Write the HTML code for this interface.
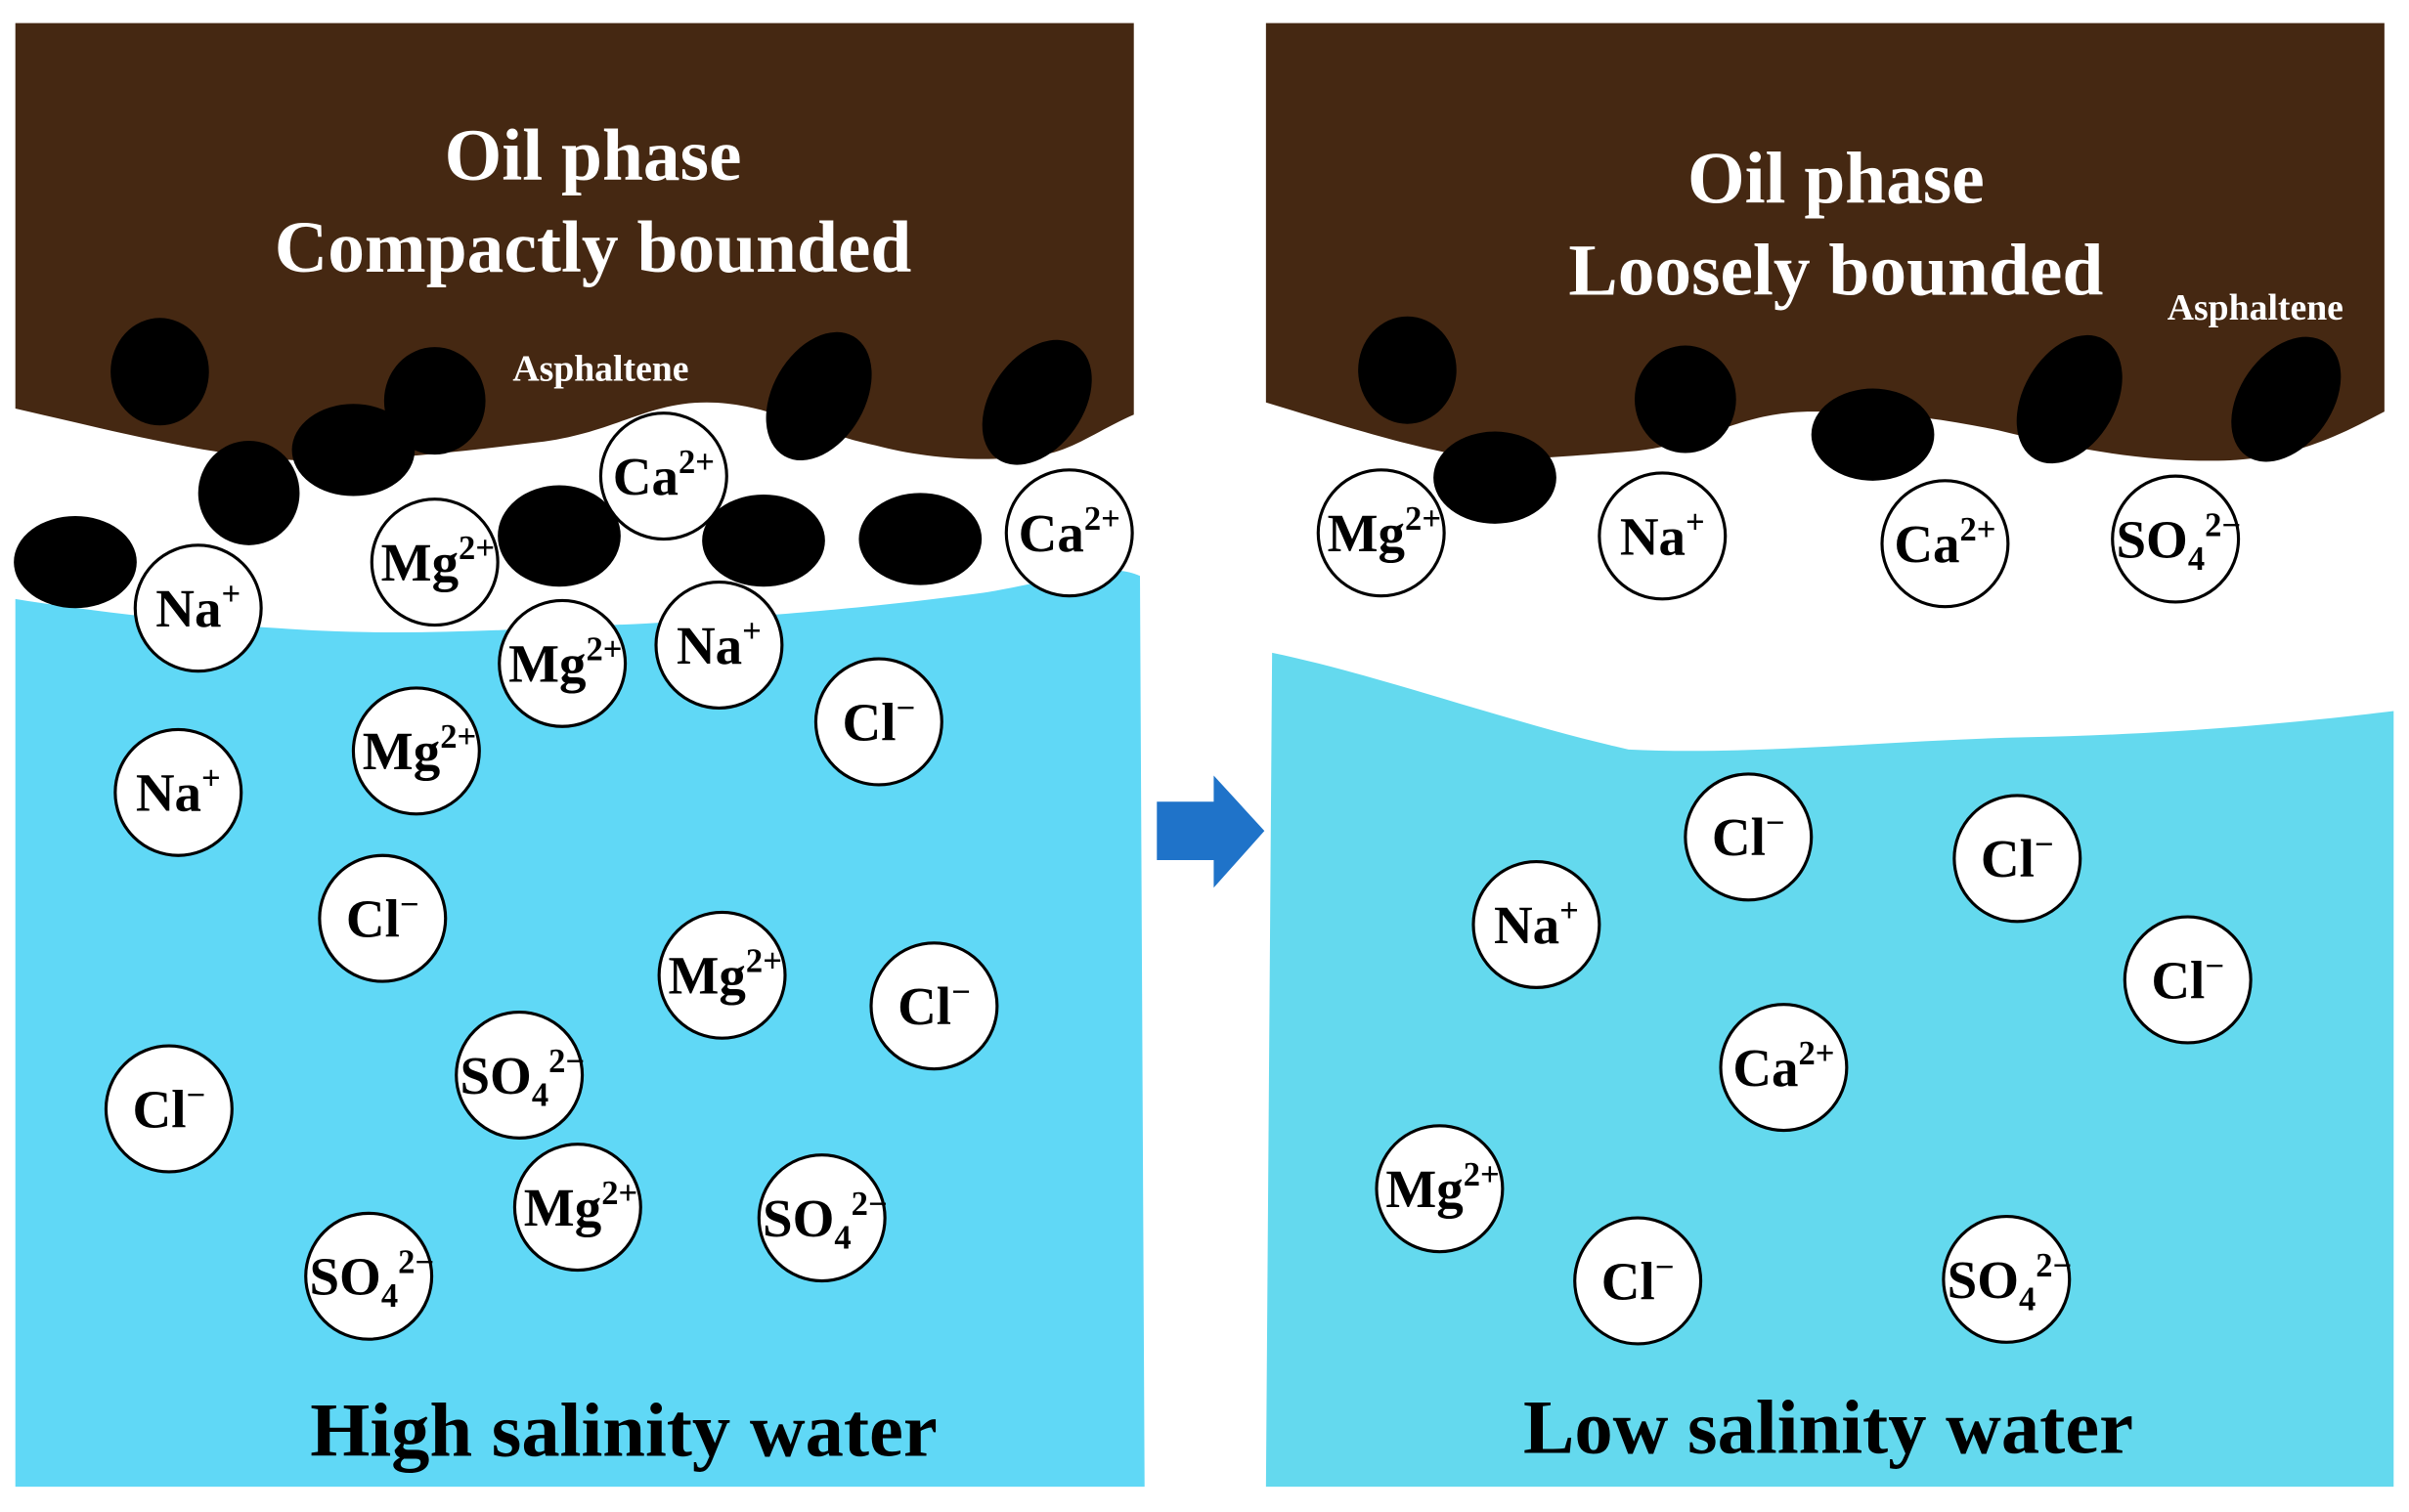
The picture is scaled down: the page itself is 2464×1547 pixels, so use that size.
<!DOCTYPE html>
<html><head><style>html,body{margin:0;padding:0;background:#fff}svg{display:block}</style></head><body>
<svg width="2464" height="1547" viewBox="0 0 1568 984.5" preserveAspectRatio="none" xmlns="http://www.w3.org/2000/svg" font-family="Liberation Serif, serif" font-weight="bold">
<rect width="1568" height="985" fill="#fff"/>
<path d="M10,390 C60,398 120,405 180,409 C260,415 330,410 420,406 C520,400 580,394 640,386 C690,378 720,365 742,375 L745,968 L10,968 Z" fill="#60d8f6"/>
<path d="M10,15 L738,15 L738,270 C715,280 700,292 680,296 C640,302 600,298 570,290 C530,282 500,262 460,262 C420,262 400,282 350,288 C300,294 250,300 200,300 C140,298 80,282 10,266 Z" fill="#452812"/>
<path d="M828,425 C900,440 980,470 1060,488 C1140,492 1230,482 1320,480 C1420,478 1500,470 1558,463 L1558,968 L824,968 Z" fill="#64d9ee"/>
<path d="M824,15 L1552,15 L1552,268 C1520,285 1490,300 1440,300 C1390,300 1350,292 1300,280 C1260,272 1230,268 1180,268 C1130,268 1110,290 1060,294 C1010,298 980,300 960,298 C920,292 870,276 824,262 Z" fill="#452812"/>
<path d="M753,522 L790,522 L790,505 L823,541 L790,578 L790,560 L753,560 Z" fill="#1f73c9"/>
<g fill="#000">
<ellipse cx="104" cy="242" rx="32" ry="35"/>
<ellipse cx="162" cy="321" rx="33" ry="34"/>
<ellipse cx="230" cy="293" rx="40" ry="30"/>
<ellipse cx="283" cy="261" rx="33" ry="35"/>
<ellipse cx="49" cy="366" rx="40" ry="30"/>
<ellipse cx="364" cy="349" rx="40" ry="33"/>
<ellipse cx="497" cy="352" rx="40" ry="30"/>
<ellipse cx="599" cy="351" rx="40" ry="30"/>
<ellipse cx="533" cy="258" rx="30" ry="45" transform="rotate(30 533 258)"/>
<ellipse cx="675" cy="262" rx="30" ry="45" transform="rotate(35 675 262)"/>
<ellipse cx="916" cy="241" rx="32" ry="35"/>
<ellipse cx="973" cy="311" rx="40" ry="30"/>
<ellipse cx="1097" cy="260" rx="33" ry="35"/>
<ellipse cx="1219" cy="283" rx="40" ry="30"/>
<ellipse cx="1347" cy="260" rx="30" ry="45" transform="rotate(30 1347 260)"/>
<ellipse cx="1488" cy="260" rx="30" ry="45" transform="rotate(35 1488 260)"/>
</g>
<g fill="#fff" text-anchor="middle">
<text x="386" y="117" font-size="48">Oil phase</text>
<text x="386" y="177" font-size="48">Compactly bounded</text>
<text x="391" y="248" font-size="24">Asphaltene</text>
<text x="1195" y="132" font-size="48">Oil phase</text>
<text x="1195" y="192" font-size="48">Loosely bounded</text>
<text x="1468" y="208" font-size="24">Asphaltene</text>
</g>
<g fill="#000" text-anchor="middle" font-size="50">
<text x="406" y="948">High salinity water</text>
<text x="1190" y="946">Low salinity water</text>
</g>
<g stroke="#000" stroke-width="2" fill="#fff">
<circle cx="432" cy="310" r="41"/><circle cx="696" cy="347" r="41"/><circle cx="129" cy="396" r="41"/>
<circle cx="283" cy="366" r="41"/><circle cx="366" cy="432" r="41"/><circle cx="468" cy="420" r="41"/>
<circle cx="572" cy="470" r="41"/><circle cx="116" cy="516" r="41"/><circle cx="271" cy="489" r="41"/>
<circle cx="249" cy="598" r="41"/><circle cx="470" cy="635" r="41"/><circle cx="608" cy="655" r="41"/>
<circle cx="110" cy="722" r="41"/><circle cx="338" cy="700" r="41"/><circle cx="376" cy="786" r="41"/>
<circle cx="535" cy="793" r="41"/><circle cx="240" cy="831" r="41"/>
<circle cx="899" cy="347" r="41"/><circle cx="1082" cy="349" r="41"/><circle cx="1266" cy="354" r="41"/>
<circle cx="1416" cy="351" r="41"/><circle cx="1138" cy="545" r="41"/><circle cx="1313" cy="559" r="41"/>
<circle cx="1000" cy="602" r="41"/><circle cx="1424" cy="638" r="41"/><circle cx="1161" cy="695" r="41"/>
<circle cx="937" cy="774" r="41"/><circle cx="1066" cy="834" r="41"/><circle cx="1306" cy="833" r="41"/>
</g>
<g fill="#000" font-size="35" text-anchor="middle">
<text x="432" y="322">Ca<tspan font-size="22" dy="-14">2+</tspan></text>
<text x="696" y="359">Ca<tspan font-size="22" dy="-14">2+</tspan></text>
<text x="129" y="408">Na<tspan font-size="22" dy="-14">+</tspan></text>
<text x="285" y="378">Mg<tspan font-size="22" dy="-14">2+</tspan></text>
<text x="368" y="444">Mg<tspan font-size="22" dy="-14">2+</tspan></text>
<text x="468" y="432">Na<tspan font-size="22" dy="-14">+</tspan></text>
<text x="572" y="482">Cl<tspan font-size="22" dy="-14">−</tspan></text>
<text x="116" y="528">Na<tspan font-size="22" dy="-14">+</tspan></text>
<text x="273" y="501">Mg<tspan font-size="22" dy="-14">2+</tspan></text>
<text x="249" y="610">Cl<tspan font-size="22" dy="-14">−</tspan></text>
<text x="472" y="647">Mg<tspan font-size="22" dy="-14">2+</tspan></text>
<text x="608" y="667">Cl<tspan font-size="22" dy="-14">−</tspan></text>
<text x="110" y="734">Cl<tspan font-size="22" dy="-14">−</tspan></text>
<text x="340" y="712">SO<tspan font-size="22" dy="8">4</tspan><tspan font-size="22" dy="-22">2−</tspan></text>
<text x="378" y="798">Mg<tspan font-size="22" dy="-14">2+</tspan></text>
<text x="537" y="805">SO<tspan font-size="22" dy="8">4</tspan><tspan font-size="22" dy="-22">2−</tspan></text>
<text x="242" y="843">SO<tspan font-size="22" dy="8">4</tspan><tspan font-size="22" dy="-22">2−</tspan></text>
<text x="901" y="359">Mg<tspan font-size="22" dy="-14">2+</tspan></text>
<text x="1082" y="361">Na<tspan font-size="22" dy="-14">+</tspan></text>
<text x="1266" y="366">Ca<tspan font-size="22" dy="-14">2+</tspan></text>
<text x="1418" y="363">SO<tspan font-size="22" dy="8">4</tspan><tspan font-size="22" dy="-22">2−</tspan></text>
<text x="1138" y="557">Cl<tspan font-size="22" dy="-14">−</tspan></text>
<text x="1313" y="571">Cl<tspan font-size="22" dy="-14">−</tspan></text>
<text x="1000" y="614">Na<tspan font-size="22" dy="-14">+</tspan></text>
<text x="1424" y="650">Cl<tspan font-size="22" dy="-14">−</tspan></text>
<text x="1161" y="707">Ca<tspan font-size="22" dy="-14">2+</tspan></text>
<text x="939" y="786">Mg<tspan font-size="22" dy="-14">2+</tspan></text>
<text x="1066" y="846">Cl<tspan font-size="22" dy="-14">−</tspan></text>
<text x="1308" y="845">SO<tspan font-size="22" dy="8">4</tspan><tspan font-size="22" dy="-22">2−</tspan></text>
</g>
</svg>
</body></html>
